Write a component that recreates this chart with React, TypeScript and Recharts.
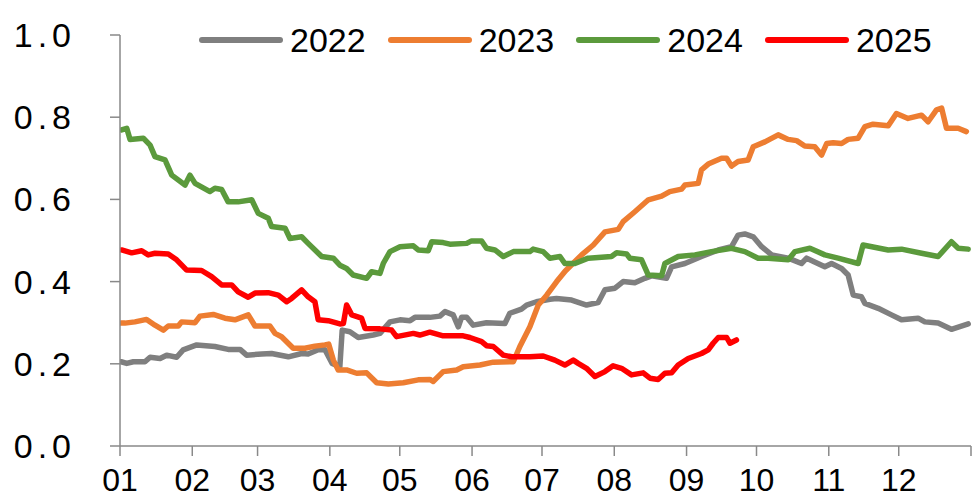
import React from 'react';
import { LineChart, Line, XAxis, YAxis, Legend } from 'recharts';

const monthTicks = [0, 31, 59, 90, 120, 151, 181, 212, 243, 273, 304, 334, 365];
const monthLabels = ['01', '02', '03', '04', '05', '06', '07', '08', '09', '10', '11', '12', ''];
const yTicks = [0, 0.2, 0.4, 0.6, 0.8, 1.0];

const s2022: [number, number][] = [
  [0.5, 0.205], [2.9, 0.201], [5.7, 0.205], [10.7, 0.205], [12.9, 0.216], [17.2, 0.213], [20, 0.221], [24.3, 0.216],
  [27.1, 0.234], [32.9, 0.246], [40.7, 0.242], [46.4, 0.235], [51.5, 0.235], [54.3, 0.221], [60.8, 0.224], [65, 0.225],
  [72.2, 0.217], [77.9, 0.225], [80.7, 0.224], [85, 0.234], [87.9, 0.234], [91, 0.201], [94.3, 0.193], [95.3, 0.282],
  [98.6, 0.278], [102.2, 0.264], [108.6, 0.27], [111.5, 0.274], [115.8, 0.302], [120.1, 0.307], [124.4, 0.305],
  [126.5, 0.313], [132.9, 0.313], [137.2, 0.316], [139.4, 0.327], [142.9, 0.319], [145.1, 0.29], [146.5, 0.313],
  [148.7, 0.313], [151.5, 0.294], [157.2, 0.3], [165.1, 0.298], [167.2, 0.323], [172.2, 0.333], [174.4, 0.343],
  [178.6, 0.351], [184.4, 0.357], [187.2, 0.359], [193.7, 0.355], [200.1, 0.343], [205.1, 0.349], [208, 0.38],
  [212.3, 0.384], [215.8, 0.4], [220.8, 0.397], [225.1, 0.408], [228, 0.414], [234.4, 0.408], [236.6, 0.436],
  [242.3, 0.444], [249.4, 0.461], [256.6, 0.477], [262.3, 0.485], [265.1, 0.513], [268, 0.516], [271.6, 0.509],
  [275.2, 0.485], [279.5, 0.465], [286.6, 0.457], [292.3, 0.444], [294.5, 0.457], [302.3, 0.436], [305.2, 0.444],
  [309.5, 0.432], [312.3, 0.416], [314.5, 0.367], [318, 0.363], [319.5, 0.347], [325.2, 0.335], [330.9, 0.319],
  [335.2, 0.307], [342.3, 0.311], [345.2, 0.302], [350.9, 0.299], [356.6, 0.284], [363.8, 0.297],
];

const s2023: [number, number][] = [
  [0.5, 0.299], [2.1, 0.299], [6.4, 0.302], [11.4, 0.308], [15, 0.294], [18.6, 0.282], [20.7, 0.292], [25, 0.292],
  [26.4, 0.302], [32.2, 0.3], [34.3, 0.316], [40, 0.32], [45, 0.311], [49.3, 0.307], [55, 0.319], [57.9, 0.292],
  [64.3, 0.292], [66.5, 0.274], [69.3, 0.266], [74.3, 0.238], [79.3, 0.238], [83.6, 0.243], [87.9, 0.246],
  [89.5, 0.248], [91.5, 0.209], [93.6, 0.185], [97.2, 0.185], [101.5, 0.177], [105.8, 0.178], [110.1, 0.154],
  [115.1, 0.151], [121.5, 0.154], [127.9, 0.161], [132.9, 0.162], [134.3, 0.157], [138.6, 0.181], [144.4, 0.185],
  [147.2, 0.193], [154.4, 0.197], [160.1, 0.204], [168.7, 0.205], [171.5, 0.242], [175.8, 0.29], [179.4, 0.343],
  [183, 0.367], [187.3, 0.4], [191, 0.426], [198, 0.465], [203, 0.489], [208, 0.521], [213.7, 0.527], [215.8, 0.546],
  [220.8, 0.57], [226.6, 0.599], [232.3, 0.608], [235.8, 0.619], [240.9, 0.625], [242.3, 0.635], [248, 0.639],
  [249.4, 0.672], [252.3, 0.686], [258, 0.7], [260.2, 0.7], [262.3, 0.681], [265.1, 0.692], [269.4, 0.696],
  [271.6, 0.728], [276.6, 0.74], [282.3, 0.757], [286.6, 0.746], [290.2, 0.743], [293.7, 0.73], [298, 0.728],
  [300.9, 0.708], [303.1, 0.736], [305.9, 0.738], [309.5, 0.736], [312.3, 0.746], [316.6, 0.749], [319.5, 0.777],
  [323, 0.783], [329.5, 0.779], [333, 0.809], [338, 0.797], [343.8, 0.805], [346.6, 0.789], [350.2, 0.818],
  [352.4, 0.822], [354.5, 0.773], [359.5, 0.773], [363, 0.765],
];

const s2024: [number, number][] = [
  [0.7, 0.769], [2.9, 0.773], [4.3, 0.746], [10, 0.749], [12.9, 0.732], [15, 0.704], [19.3, 0.696], [22.2, 0.659],
  [27.9, 0.635], [30, 0.659], [32.2, 0.639], [38.6, 0.619], [40.7, 0.627], [43.6, 0.624], [46.4, 0.594], [50.7, 0.594],
  [56.5, 0.599], [59.3, 0.566], [63.6, 0.554], [65, 0.534], [70.8, 0.53], [72.9, 0.505], [77.9, 0.509], [80.7, 0.493],
  [86.5, 0.461], [91.5, 0.457], [94.3, 0.44], [97.2, 0.432], [100, 0.416], [105.8, 0.408], [107.9, 0.424],
  [111.5, 0.42], [112.9, 0.444], [115.8, 0.473], [120.1, 0.485], [125.8, 0.487], [127.9, 0.477], [132.2, 0.475],
  [133.7, 0.497], [138.6, 0.495], [141.5, 0.491], [148.7, 0.493], [150.8, 0.499], [155.1, 0.499], [157.2, 0.481],
  [160.8, 0.477], [164.4, 0.461], [168.7, 0.473], [175.8, 0.473], [177.2, 0.479], [181.5, 0.473], [184.4, 0.457],
  [188.7, 0.461], [190.8, 0.444], [195.1, 0.444], [200.8, 0.457], [210.8, 0.461], [213, 0.47], [217.3, 0.467],
  [218.7, 0.457], [223.7, 0.453], [226.6, 0.416], [232.3, 0.414], [233.7, 0.444], [239.4, 0.461], [246.6, 0.465],
  [253.7, 0.473], [262.3, 0.481], [268, 0.473], [273.7, 0.457], [278, 0.457], [286.6, 0.453], [289.5, 0.473],
  [295.9, 0.481], [302.3, 0.465], [308, 0.457], [316.6, 0.444], [318.7, 0.489], [329.5, 0.477], [335.2, 0.479],
  [343.8, 0.469], [350.9, 0.461], [356.6, 0.497], [359.5, 0.481], [363.8, 0.479],
];

const s2025: [number, number][] = [
  [0.7, 0.477], [5, 0.47], [9.3, 0.475], [12.1, 0.465], [15, 0.469], [20.7, 0.467], [24.3, 0.453], [28.6, 0.428],
  [35, 0.427], [39.3, 0.412], [43.6, 0.392], [47.9, 0.392], [50.7, 0.375], [55, 0.362], [57.9, 0.372], [63.6, 0.373],
  [67.9, 0.367], [71.5, 0.351], [73.6, 0.359], [77.9, 0.38], [80.7, 0.363], [83.6, 0.351], [85, 0.307], [89.3, 0.305],
  [94.3, 0.297], [95.8, 0.298], [97.2, 0.343], [99.4, 0.319], [103.6, 0.311], [105.1, 0.286], [111.5, 0.285],
  [116.5, 0.282], [118.6, 0.266], [125.8, 0.274], [128.6, 0.27], [132.9, 0.277], [138.6, 0.268], [147.2, 0.268],
  [150.1, 0.264], [155.1, 0.254], [157.2, 0.244], [160.1, 0.242], [164.4, 0.221], [168, 0.217], [175.8, 0.217],
  [181.5, 0.219], [186.5, 0.209], [190.8, 0.197], [194.4, 0.209], [196.5, 0.201], [200.1, 0.189], [203.7, 0.169],
  [208, 0.181], [211.5, 0.195], [215.1, 0.189], [219.4, 0.173], [224.4, 0.178], [227.3, 0.165], [230.8, 0.162],
  [233.7, 0.177], [236.6, 0.178], [239.4, 0.197], [243.7, 0.213], [249.4, 0.225], [252.3, 0.234], [254.4, 0.25],
  [256.6, 0.264], [260.2, 0.264], [261.6, 0.25], [264.4, 0.258],
];

const seriesNames = ['2022', '2023', '2024', '2025'];
const seriesColors = ['#7f7f7f', '#ed7d31', '#5b9a3c', '#ff0000'];
const seriesValues = [s2022, s2023, s2024, s2025];

const FONT = '"Liberation Sans", Arial, sans-serif';
const AXIS = '#898989';

const toRows = (pts: [number, number][]) => pts.map(([d, v]) => ({ d, v }));

const LegendContent = (props: any) => {
  const payload = props.payload || [];
  return (
    <div style={{ display: 'flex', alignItems: 'center', fontFamily: FONT }}>
      {payload.map((e: any) => (
        <div key={e.value} style={{ display: 'flex', alignItems: 'center', marginRight: 21 }}>
          <svg width={86} height={10} style={{ display: 'block' }}>
            <line x1={4} y1={5} x2={82} y2={5} stroke={e.color} strokeWidth={6} strokeLinecap="round" />
          </svg>
          <span style={{ fontSize: 34, marginLeft: 6, color: '#000', lineHeight: '40px' }}>{e.value}</span>
        </div>
      ))}
    </div>
  );
};

export default function App() {
  return (
    <div style={{ position: 'absolute', left: 0, top: 0, width: 977, height: 500, background: '#fff' }}>
      <LineChart width={977} height={500} margin={{ top: 35, right: 6, left: 0, bottom: 0 }}>
        <XAxis
          type="number"
          dataKey="d"
          domain={[0, 365]}
          ticks={monthTicks}
          tickFormatter={(v: number) => monthLabels[monthTicks.indexOf(v)] ?? ''}
          interval={0}
          height={54}
          tickSize={10}
          tickMargin={12}
          axisLine={{ stroke: AXIS, strokeWidth: 1.5 }}
          tickLine={{ stroke: AXIS, strokeWidth: 1.5 }}
          tick={{ fill: '#000', fontSize: 32, fontFamily: FONT }}
          allowDataOverflow
        />
        <YAxis
          type="number"
          domain={[0, 1]}
          ticks={yTicks}
          tickFormatter={(v: number) => v.toFixed(1)}
          interval={0}
          width={120}
          tickSize={10}
          tickMargin={34}
          axisLine={{ stroke: AXIS, strokeWidth: 1.5 }}
          tickLine={{ stroke: AXIS, strokeWidth: 1.5 }}
          tick={{ fill: '#000', fontSize: 34, fontFamily: FONT, letterSpacing: 5 }}
        />
        <Legend
          verticalAlign="middle"
          align="center"
          content={<LegendContent />}
          wrapperStyle={{ left: 198, top: 20, width: 760 }}
        />
        {seriesNames.map((name, i) => (
          <Line
            key={name}
            name={name}
            data={toRows(seriesValues[i])}
            dataKey="v"
            type="linear"
            stroke={seriesColors[i]}
            strokeWidth={5.5}
            strokeLinejoin="round"
            strokeLinecap="round"
            dot={false}
            activeDot={false}
            isAnimationActive={false}
          />
        ))}
      </LineChart>
    </div>
  );
}
